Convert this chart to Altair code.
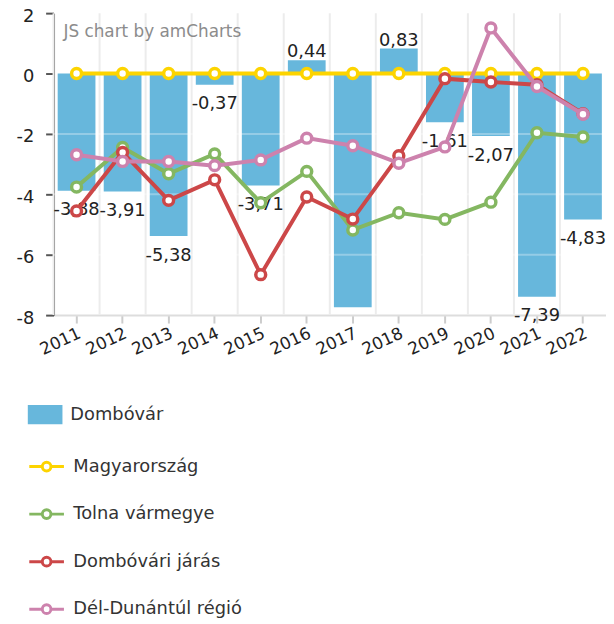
import altair as alt
import pandas as pd

years = [str(y) for y in range(2011, 2023)]

bar_name = "Dombóvár"
bar_color = "#67b7dc"
dombovar = [-3.88, -3.91, -5.38, -0.37, -3.71, 0.44, -7.74, 0.83, -1.61, -2.07, -7.39, -4.83]
dombovar_labels = ["-3,88", "-3,91", "-5,38", "-0,37", "-3,71", "0,44", "", "0,83",
                   "-1,61", "-2,07", "-7,39", "-4,83"]

line_names = ["Magyarország", "Tolna vármegye", "Dombóvári járás", "Dél-Dunántúl régió"]
line_colors = ["#fdd400", "#84b761", "#cc4748", "#cd82ad"]
magyar = [0, 0, 0, 0, 0, 0, 0, 0, 0, 0, 0, 0]
tolna = [-3.76, -2.45, -3.32, -2.66, -4.28, -3.24, -5.18, -4.61, -4.83, -4.26, -1.96, -2.10]
jaras = [-4.55, -2.61, -4.20, -3.52, -6.66, -4.09, -4.82, -2.72, -0.17, -0.28, -0.37, -1.33]
regio = [-2.69, -2.91, -2.91, -3.05, -2.86, -2.14, -2.39, -2.97, -2.43, 1.51, -0.43, -1.35]
line_values = [magyar, tolna, jaras, regio]

y_ticks = [2, 0, -2, -4, -6, -8]
grid_values = [-2, -4, -6]
watermark = "JS chart by amCharts"

FONT = "DejaVu Sans"

bars_df = pd.DataFrame({"year": years, "value": dombovar, "label": dombovar_labels,
                        "series": [bar_name] * len(years)})
grid_df = pd.DataFrame({"value": grid_values})

x_axis = alt.Axis(labelAngle=-25, labelAlign="right", labelBaseline="top", labelFontSize=17,
                  labelColor="#222", labelPadding=2, tickSize=8, tickColor="#ccc", tickWidth=2,
                  domainColor="#ddd", domainWidth=2, grid=False, title=None, labelFont=FONT)
x_scale = alt.Scale(paddingInner=0, paddingOuter=0)
y_axis = alt.Axis(values=y_ticks, labelFontSize=18, labelColor="#222", tickSize=8, tickColor="#555",
                  tickWidth=2, domainColor="#555", domainWidth=2, labelPadding=12, grid=False,
                  labelOffset=3, title=None, labelFont=FONT, labelExpr="datum.value + ''")
y_scale = alt.Scale(domain=[-8, 2], nice=False, zero=False)


def X(**kw):
    return alt.X("year:N", sort=years, scale=x_scale, axis=x_axis, title=None, **kw)


def Y():
    return alt.Y("value:Q", scale=y_scale, axis=y_axis, title=None)


vgrid = alt.Chart(bars_df).mark_rule(color="#ececec", strokeWidth=2).encode(
    x=X(bandPosition=0))

bars = alt.Chart(bars_df).mark_bar(width=alt.RelativeBandSize(0.82)).encode(
    x=X(), y=Y(),
    fill=alt.Fill("series:N", scale=alt.Scale(domain=[bar_name], range=[bar_color]),
                  legend=alt.Legend(orient="none", legendX=-26, legendY=388, title=None,
                                    direction="vertical",
                                    symbolType="M-1,-0.55H1V0.55H-1Z", symbolSize=1225,
                                    symbolStrokeWidth=0, symbolOpacity=1,
                                    labelFontSize=18, labelColor="#333", labelOffset=8,
                                    labelLimit=300, labelFont=FONT)))

hgrid = alt.Chart(grid_df).mark_rule(color="white", opacity=0.3, strokeWidth=2).encode(y=Y())

pos_labels = alt.Chart(bars_df).transform_filter("datum.value >= 0").mark_text(
    fontSize=18, color="#222", baseline="alphabetic", dy=-3, font=FONT).encode(
    x=X(), y=Y(), text="label:N")
neg_labels = alt.Chart(bars_df).transform_filter("datum.value < 0").mark_text(
    fontSize=18, color="#222", baseline="top", dy=11, font=FONT).encode(
    x=X(), y=Y(), text="label:N")

wm = alt.Chart(pd.DataFrame({"t": [watermark]})).mark_text(
    align="left", baseline="alphabetic", fontSize=17, color="#8c8c8c", font=FONT).encode(
    x=alt.value(10), y=alt.value(24), text="t:N")

stroke_scale = alt.Scale(domain=line_names, range=line_colors)
legend_path = ("M-1,0L-0.27,0M0.27,0L1,0"
               "M-0.25,0A0.25,0.25,0,1,1,0.25,0A0.25,0.25,0,1,1,-0.25,0Z")
stroke_legend = alt.Legend(orient="none", legendX=-26, legendY=439, title=None,
                           direction="vertical", symbolType=legend_path, symbolSize=1225,
                           symbolStrokeWidth=3, symbolFillColor="white", symbolOpacity=1,
                           labelFontSize=18, labelColor="#333", labelOffset=8,
                           rowPadding=18, labelLimit=300, labelFont=FONT)

line_layers = []
for name, vals in zip(line_names, line_values):
    d = pd.DataFrame({"year": years, "value": vals, "series": [name] * len(years)})
    enc = dict(x=X(), y=Y(), stroke=alt.Stroke("series:N", scale=stroke_scale, legend=stroke_legend))
    line_layers.append(alt.Chart(d).mark_line(strokeWidth=4).encode(**enc))
    line_layers.append(alt.Chart(d).mark_point(shape="circle", filled=True, fill="white", size=100,
                                               strokeWidth=3.5, opacity=1).encode(**enc))

chart = alt.layer(vgrid, bars, hgrid, pos_labels, neg_labels, wm, *line_layers).properties(
    width=558, height=305,
    autosize=alt.AutoSizeParams(type="none"),
    padding={"left": 46, "top": 2, "right": 0, "bottom": 330},
).configure(font=FONT).configure_view(stroke=None)

chart.save("out.html", embed_options={"renderer": "svg", "actions": False})
